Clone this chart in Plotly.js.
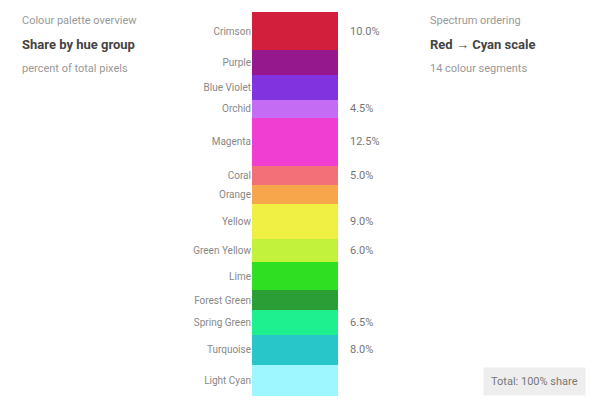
<!DOCTYPE html>
<html>
<head>
<meta charset="utf-8">
<script src="https://cdn.plot.ly/plotly-3.0.1.min.js"></script>
<style>html,body{margin:0;padding:0;background:#fff;}#chart{width:600px;height:408px;}</style>
</head>
<body>
<div id="chart"></div>
<script>
// top-to-bottom segments
const names = ["Crimson","Purple","Blue Violet","Orchid","Magenta","Coral","Orange","Yellow","Green Yellow","Lime","Forest Green","Spring Green","Turquoise","Light Cyan"];
const shares = [10, 6.5, 6.5, 4.5, 12.5, 5, 5, 9, 6, 7.5, 5, 6.5, 8, 8];
const colors = ["#d11f3c","#95198c","#8233e0","#c46cf4","#f03ed2","#f47078","#f8a64c","#f0ef44","#c2f23c","#2fdf22","#2c9e36","#1ef090","#28c6c8","#9ef6ff"];
const rightLabels = ["10.0%","","","4.5%","12.5%","5.0%","","9.0%","6.0%","","","6.5%","8.0%",""];

const n = names.length;
const traces = [];
// stack bottom-up: reverse order
for (let i = n - 1; i >= 0; i--) {
  traces.push({
    type: "bar", x: ["palette"], y: [shares[i]], name: names[i],
    marker: {color: colors[i], line: {width: 0}},
    hovertemplate: names[i] + ": %{y}%<extra></extra>", showlegend: false
  });
}
// midpoints for labels
const total = shares.reduce((a, b) => a + b, 0);
const mids = [];
let cursor = total;
for (let i = 0; i < n; i++) { mids.push(cursor - shares[i] / 2); cursor -= shares[i]; }

const annotations = [];
for (let i = 0; i < n; i++) {
  if (rightLabels[i]) annotations.push({
    xref: "paper", yref: "y", x: 1, y: mids[i], xanchor: "left", xshift: 10,
    text: rightLabels[i], showarrow: false, font: {size: 11, color: "#777"}
  });
}
annotations.push(
  {xref:"paper",yref:"paper",x:-2.7,y:1.0,xanchor:"left",yanchor:"top",text:"Colour palette overview",showarrow:false,font:{size:11,color:"#999"}},
  {xref:"paper",yref:"paper",x:-2.7,y:0.94,xanchor:"left",yanchor:"top",text:"<b>Share by hue group</b>",showarrow:false,font:{size:13,color:"#444"}},
  {xref:"paper",yref:"paper",x:-2.7,y:0.875,xanchor:"left",yanchor:"top",text:"percent of total pixels",showarrow:false,font:{size:11,color:"#999"}},
  {xref:"paper",yref:"paper",x:2.05,y:1.0,xanchor:"left",yanchor:"top",text:"Spectrum ordering",showarrow:false,font:{size:11,color:"#999"}},
  {xref:"paper",yref:"paper",x:2.05,y:0.94,xanchor:"left",yanchor:"top",text:"<b>Red → Cyan scale</b>",showarrow:false,font:{size:13,color:"#444"}},
  {xref:"paper",yref:"paper",x:2.05,y:0.875,xanchor:"left",yanchor:"top",text:"14 colour segments",showarrow:false,font:{size:11,color:"#999"}},
  {xref:"paper",yref:"paper",x:3.88,y:0.0,xanchor:"right",yanchor:"bottom",text:"Total: 100% share",showarrow:false,font:{size:11,color:"#777"},bgcolor:"#eeeeee",borderpad:7}
);

const layout = {
  width: 600, height: 408,
  margin: {l: 252, r: 262, t: 12, b: 12},
  barmode: "stack", bargap: 0,
  paper_bgcolor: "#fff", plot_bgcolor: "#fff",
  font: {family: "Roboto, sans-serif", size: 11, color: "#777"},
  xaxis: {visible: false},
  yaxis: {range: [0, total], tickmode: "array", tickvals: mids, ticktext: names,
          showgrid: false, zeroline: false, showline: false, ticks: "", tickfont: {size: 10, color: "#888"}},
  annotations: annotations
};
Plotly.newPlot("chart", traces, layout, {displayModeBar: false, staticPlot: true});
</script>
</body>
</html>
